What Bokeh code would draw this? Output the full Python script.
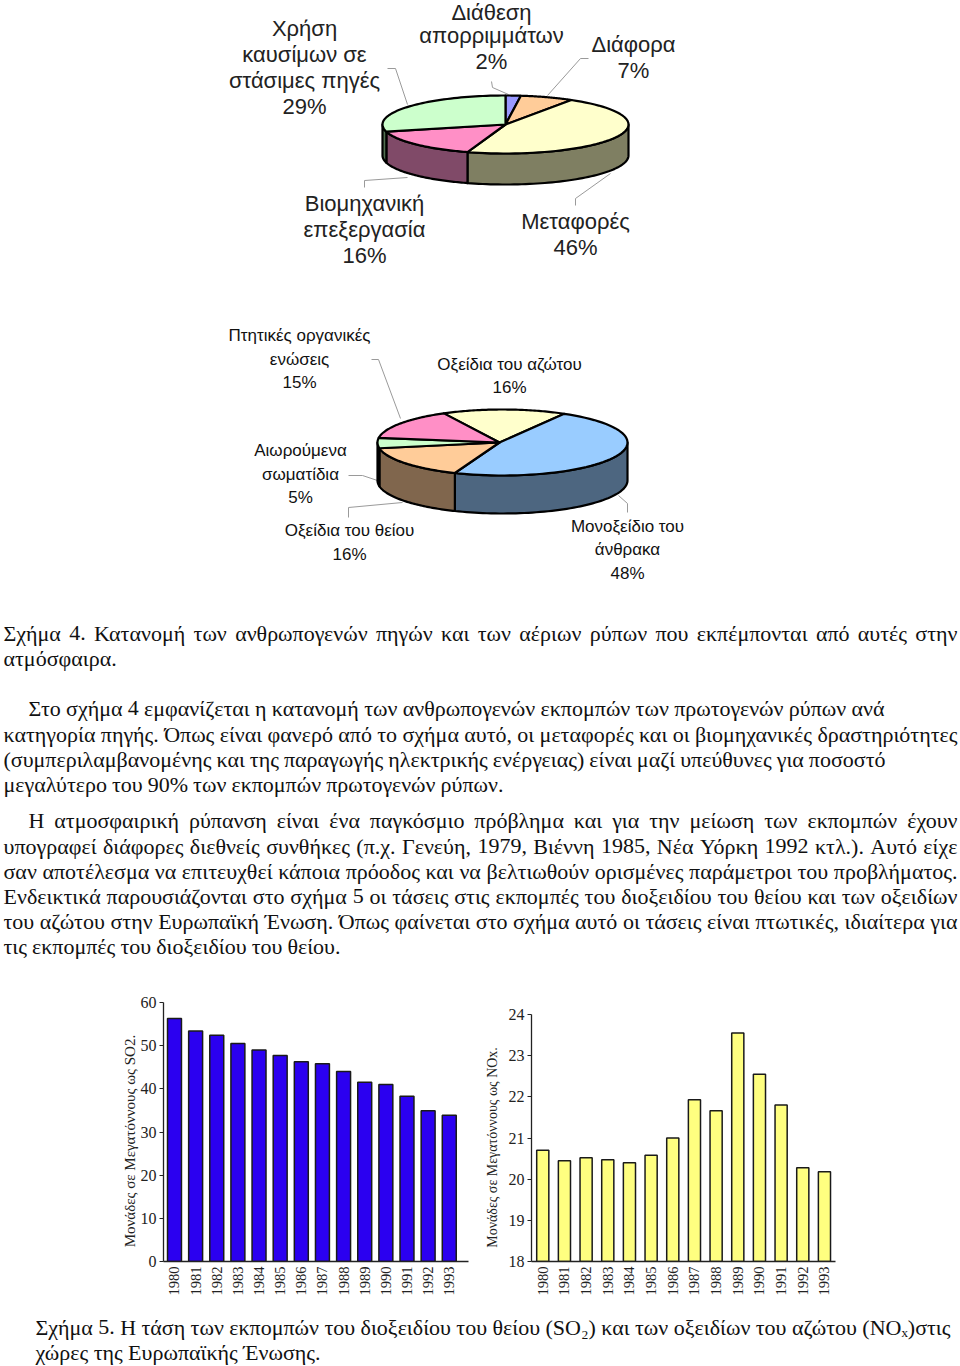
import glob
import numpy as np
from bokeh.embed import file_html
from bokeh.resources import INLINE
from bokeh.plotting import figure
from bokeh.layouts import column, row
from bokeh.models import Range1d, FixedTicker, Label
from bokeh.core.properties import value

# ---------- data ----------
pie1_labels = ["Διάθεση απορριμμάτων", "Διάφορα", "Μεταφορές", "Βιομηχανική επεξεργασία", "Χρήση καυσίμων σε στάσιμες πηγές"]
pie1_values = [2, 7, 46, 16, 29]
pie1_top = ["#9999FF", "#FFCC99", "#FFFFCC", "#FF8FC6", "#CCFFCC"]
pie1_side = ["#4D4D80", "#80664D", "#7F7F62", "#804A68", "#527052"]

pie2_labels = ["Οξείδια του αζώτου", "Μονοξείδιο του άνθρακα", "Οξείδια του θείου", "Αιωρούμενα σωματίδια", "Πτητικές οργανικές ενώσεις"]
pie2_values = [16, 48, 16, 5, 15]
pie2_top = ["#FFFFCC", "#99CCFF", "#FFCC99", "#CCFFCC", "#FF8FC6"]
pie2_side = ["#7F7F66", "#4D6680", "#80664D", "#668066", "#804A68"]

years = list(range(1980, 1994))
so2 = [56.3, 53.4, 52.4, 50.5, 49.0, 47.7, 46.3, 45.8, 44.0, 41.5, 41.0, 38.3, 34.9, 33.9]
nox = [20.7, 20.45, 20.52, 20.47, 20.4, 20.58, 21.0, 21.93, 21.66, 23.55, 22.55, 21.8, 20.28, 20.18]

# label text, centre x, centre y
pie1_texts = [
    ("Χρήση", 304, 29), ("καυσίμων σε", 304, 55), ("στάσιμες πηγές", 304, 81), ("29%", 304, 107),
    ("Διάθεση", 491, 13), ("απορριμμάτων", 491, 36), ("2%", 491, 62),
    ("Διάφορα", 633, 45), ("7%", 633, 71),
    ("Βιομηχανική", 364, 204), ("επεξεργασία", 364, 230), ("16%", 364, 256),
    ("Μεταφορές", 575, 222), ("46%", 575, 248),
]
pie2_texts = [
    ("Πτητικές οργανικές", 299, 336), ("ενώσεις", 299, 360), ("15%", 299, 383),
    ("Οξείδια του αζώτου", 509, 365), ("16%", 509, 388),
    ("Αιωρούμενα", 300, 451), ("σωματίδια", 300, 475), ("5%", 300, 498),
    ("Οξείδια του θείου", 349, 531), ("16%", 349, 555),
    ("Μονοξείδιο του", 627, 527), ("άνθρακα", 627, 550), ("48%", 627, 574),
]
leaders = [
    [(387, 68), (395, 68), (407, 104)], [(491, 81), (492, 87), (508, 94)],
    [(588, 58), (580, 58), (547, 95)], [(575, 205), (575, 198), (610, 173)],
    [(364, 187), (364, 180), (407, 177)], [(371, 359), (378, 359), (400, 418)],
    [(348, 475), (362, 475), (377, 480)], [(348, 517), (348, 507), (402, 502)],
    [(627, 512), (627, 503), (618, 495)],
]
# text, y, x start, x end
body_lines = [
    ("Σχήμα 4. Κατανομή των ανθρωπογενών πηγών και των αέριων ρύπων που εκπέμπονται από αυτές στην", 634, 3, 957),
    ("ατμόσφαιρα.", 659, 3, 115),
    ("Στο σχήμα 4 εμφανίζεται η κατανομή των ανθρωπογενών εκπομπών των πρωτογενών ρύπων ανά", 709, 28, 884),
    ("κατηγορία πηγής. Όπως είναι φανερό από το σχήμα αυτό, οι μεταφορές και οι βιομηχανικές δραστηριότητες", 735, 3, 957),
    ("(συμπεριλαμβανομένης και της παραγωγής ηλεκτρικής ενέργειας) είναι μαζί υπεύθυνες για ποσοστό", 760, 3, 885),
    ("μεγαλύτερο του 90% των εκπομπών πρωτογενών ρύπων.", 785, 3, 503),
    ("Η ατμοσφαιρική ρύπανση είναι ένα παγκόσμιο πρόβλημα και για την μείωση των εκπομπών έχουν", 821, 28, 957),
    ("υπογραφεί διάφορες διεθνείς συνθήκες (π.χ. Γενεύη, 1979, Βιέννη 1985, Νέα Υόρκη 1992 κτλ.). Αυτό είχε", 847, 3, 957),
    ("σαν αποτέλεσμα να επιτευχθεί κάποια πρόοδος και να βελτιωθούν ορισμένες παράμετροι του προβλήματος.", 872, 3, 957),
    ("Ενδεικτικά παρουσιάζονται στο σχήμα 5 οι τάσεις στις εκπομπές του διοξειδίου του θείου και των οξειδίων", 897, 3, 957),
    ("του αζώτου στην Ευρωπαϊκή Ένωση. Όπως φαίνεται στο σχήμα αυτό οι τάσεις είναι πτωτικές, ιδιαίτερα για", 922, 3, 957),
    ("τις εκπομπές του διοξειδίου του θείου.", 947, 3, 340),
]
caption_lines = [
    ("Σχήμα 5. Η τάση των εκπομπών του διοξειδίου του θείου (SO₂) και των οξειδίων του αζώτου (NOₓ)στις", 1328, 35, 950),
    ("χώρες της Ευρωπαϊκής Ένωσης.", 1353, 35, 320),
]

SERIF = "Liberation Serif"
SANS = "Liberation Sans"
BODY = 22
TEXT_SHIFT = -1.5

# ---------- helpers ----------
def measurer(size):
    try:
        from PIL import ImageFont
        path = glob.glob("/usr/share/fonts/**/LiberationSerif-Regular.ttf", recursive=True)[0]
        f = ImageFont.truetype(path, size)
        return f.getlength
    except Exception:
        return lambda s: 0.46 * size * len(s)

def justified(lines, size):
    m = measurer(size)
    xs, ys, ts = [], [], []
    for text, y, x0, x1 in lines:
        words = text.split(" ")
        widths = [m(w) for w in words]
        gap = (x1 - x0 - sum(widths)) / max(len(words) - 1, 1)
        x = x0
        for w, wd in zip(words, widths):
            xs.append(x); ys.append(y); ts.append(w)
            x += wd + gap
    return xs, ys, ts

def canvas(w, h, y0, y1, x0=0):
    p = figure(width=w, height=h, x_range=Range1d(x0, x0 + w), y_range=Range1d(y1, y0),
               output_backend="svg", toolbar_location=None, x_axis_type=None, y_axis_type=None,
               min_border=0, outline_line_color=None)
    p.grid.visible = False
    return p

def draw_pie(p, values, tops, sides, cx, cy, rx, ry, depth, start, ax=None, ay=None):
    ax = cx if ax is None else ax
    ay = cy if ay is None else ay
    edges = np.radians(start + np.cumsum([0] + list(values)) * 3.6)
    sx, sy, sc, tx, ty, tc = [], [], [], [], [], []
    for a, b, top, side in zip(edges[:-1], edges[1:], tops, sides):
        t = np.linspace(a, b, 60)
        ex = cx + rx * np.sin(t)
        ey = cy - ry * np.cos(t)
        tx.append([ax] + list(ex)); ty.append([ay] + list(ey)); tc.append(top)
        lo, hi = max(a, np.pi / 2), min(b, 1.5 * np.pi)
        if hi > lo:
            u = np.linspace(lo, hi, 60)
            fx = cx + rx * np.sin(u)
            fy = cy - ry * np.cos(u)
            sx.append(list(fx) + list(fx[::-1]))
            sy.append(list(fy) + list((fy + depth)[::-1]))
            sc.append(side)
    p.patches(sx, sy, fill_color=sc, line_color="#000000", line_width=2.2, line_join="round")
    p.patches(tx, ty, fill_color=tc, line_color="#000000", line_width=2.2, line_join="round")

def put_text(p, xs, ys, ts, font, size, align="center", color="#111111"):
    p.text(xs, list(np.array(ys) + TEXT_SHIFT), text=ts, text_font=value(font), text_font_size=f"{size}px",
           text_align=align, text_baseline="middle", text_color=color)

def bars(values, y_start, y_end, bound_top, ticks, left, right, w, h, xr, bw, fill, ylabel, lab_x, lab_y, lab_size):
    p = figure(width=w, height=h, x_range=Range1d(*xr), y_range=Range1d(y_start, y_end),
               output_backend="svg", toolbar_location=None, min_border_left=left, min_border_right=right,
               min_border_top=17, min_border_bottom=49, outline_line_color=None)
    p.vbar(x=years, top=values, bottom=y_start, width=bw, fill_color=fill, line_color="#1a1a1a", line_width=1.5)
    p.grid.visible = False
    p.xaxis.ticker = FixedTicker(ticks=years)
    p.yaxis.ticker = FixedTicker(ticks=ticks)
    p.yaxis.bounds = (y_start, bound_top)
    p.xaxis.major_label_orientation = np.pi / 2
    p.xaxis.major_tick_out = 0
    p.xaxis.major_tick_in = 0
    p.xaxis.minor_tick_line_color = None
    p.yaxis.minor_tick_line_color = None
    p.yaxis.major_tick_out = 4
    p.yaxis.major_tick_in = 0
    p.xaxis.major_label_standoff = 5
    p.yaxis.major_label_standoff = 3
    p.axis.axis_line_color = "#222222"
    p.axis.axis_line_width = 1.3
    p.axis.major_tick_line_color = "#222222"
    p.xaxis.major_tick_line_color = None
    p.axis.major_label_text_font = SERIF
    p.xaxis.major_label_text_font_size = "14.5px"
    p.yaxis.major_label_text_font_size = "16px"
    p.axis.major_label_text_color = "#222222"
    p.add_layout(Label(x=lab_x, y=lab_y, x_units="screen", y_units="data", text=ylabel, angle=np.pi / 2,
                       text_font=SERIF, text_font_size=lab_size, text_color="#222222",
                       text_align="center", text_baseline="middle"), "left")
    return p

# ---------- top ----------
top = canvas(960, 985, 0, 985)
for line in leaders:
    top.line([q[0] for q in line], [q[1] for q in line], line_color="#9a9a9a", line_width=1)
draw_pie(top, pie1_values, pie1_top, pie1_side, 505, 124, 123, 29, 31, 0)
draw_pie(top, pie2_values, pie2_top, pie2_side, 502, 442, 125, 33, 38, -28, ax=499, ay=442)
put_text(top, [t[1] for t in pie1_texts], [t[2] for t in pie1_texts], [t[0] for t in pie1_texts], SANS, 22, color="#222222")
put_text(top, [t[1] for t in pie2_texts], [t[2] for t in pie2_texts], [t[0] for t in pie2_texts], SANS, 17)
bx, by, bt = justified(body_lines, BODY)
put_text(top, bx, by, bt, SERIF, BODY, align="left")

# ---------- bar charts ----------
left = bars(so2, 0, 60, 60, [0, 10, 20, 30, 40, 50, 60], 163, 12, 480, 325,
            (1979.48, 1993.91), 0.66, "#2B00F0", "Μονάδες σε Μεγατόννους ως SO2.", 8, 27.9, "15px")
right = bars(nox, 18, 24.2915, 24, [18, 19, 20, 21, 22, 23, 24], 51, 125, 480, 325,
             (1979.48, 1993.51), 0.56, "#FFFF80", "Μονάδες σε Μεγατόννους ως NOx.", 2, 20.77, "14px")

# ---------- caption ----------
cap = canvas(960, 56, 1310, 1366)
cx_, cy_, ct_ = justified(caption_lines, BODY)
put_text(cap, cx_, cy_, ct_, SERIF, BODY, align="left")

page = column(top, row(left, right, spacing=0), cap, spacing=0)
page.styles = {"position": "absolute", "left": "0px", "top": "0px"}
open("out.html", "w").write(file_html(page, INLINE))
